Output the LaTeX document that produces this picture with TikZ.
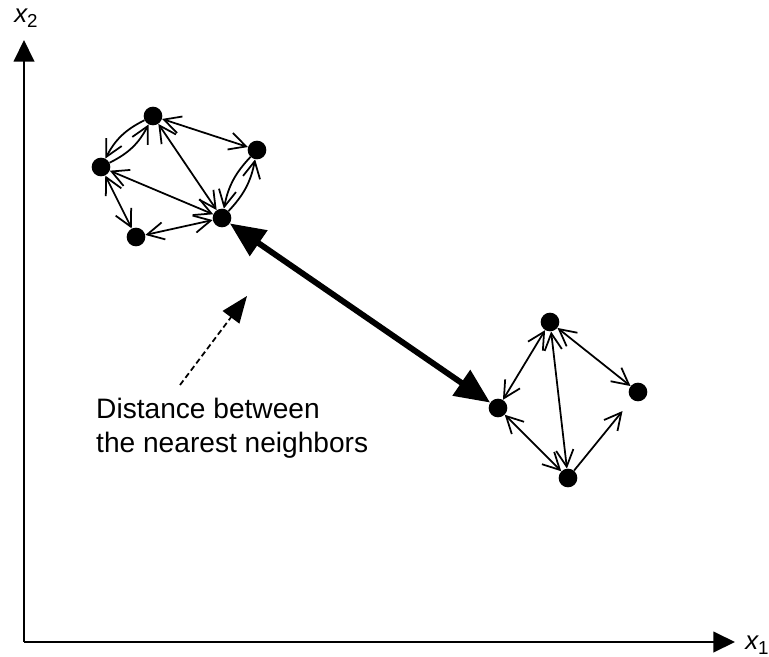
\documentclass[tikz,border=0pt]{standalone}
\usepackage{fontspec}
\setmainfont{Liberation Sans}
\usetikzlibrary{arrows.meta}

\tikzset{
  pnt/.style={circle, fill, inner sep=0pt, minimum size=0.56cm},
  nb/.style={line width=1.5pt},
  axis/.style={line width=1.6pt, -{Triangle[length=0.65cm,width=0.62cm]}},
  axlabel/.style={font=\fontsize{22}{24}\selectfont, inner sep=0pt},
}
\newcommand{\axsub}[1]{\raisebox{-0.4ex}{\upshape\fontsize{16}{16}\selectfont #1}}

\begin{document}
\begin{tikzpicture}[x=0.03cm, y=-0.03cm, >={Straight Barb[length=0.5cm,width=0.52cm]}]
        \useasboundingbox (0,0) rectangle (769,657);

        % 1. Axes x_1 and x_2
        \coordinate (o) at (24,642);
        \coordinate (xtip) at (735,642);
        \coordinate (ytip) at (24,40);
        \draw[axis] (o) -- (xtip);
        \draw[axis] (o) -- (ytip);
        \node (x1) [axlabel] at (757,645) {\itshape x\axsub{1}};
        \node (x2) [axlabel] at (26,18) {\itshape x\axsub{2}};

        % 2. Upper left cluster
        \node (a1) at (153,116) [pnt] {};
        \node (a2) at (101,167) [pnt] {};
        \node (a3) at (257,150) [pnt] {};
        \node (a4) at (222,218) [pnt] {};
        \node (a5) at (136,237) [pnt] {};
        \draw[nb,->] (a1) to[bend right=18] (a2);
        \draw[nb,->] (a2) to[bend right=18] (a1);
        \draw[nb,->] (a3) to[bend right=16] (a4);
        \draw[nb,->] (a4) to[bend right=16] (a3);
        \draw[nb,<->] (a1) -- (a3);
        \draw[nb,<->] (a1) -- (a4);
        \draw[nb,<->] (a2) -- (a4);
        \draw[nb,<->] (a2) -- (a5);
        \draw[nb,<->] (a5) -- (a4);

        % 3. Lower right cluster
        \node (b1) at (550,322) [pnt] {};
        \node (b2) at (498,408) [pnt] {};
        \node (b3) at (638,392) [pnt] {};
        \node (b4) at (568,478) [pnt] {};
        \draw[nb,<->] (b1) -- (b2);
        \draw[nb,<->] (b1) -- (b3);
        \draw[nb,<->] (b1) -- (b4);
        \draw[nb,<->] (b2) -- (b4);
        \draw[nb,->,shorten >=0.45cm] (b4) -- (b3);

        % 4. Nearest neighbour distance
        \draw[line width=5pt, {Triangle[length=1.05cm,width=0.9cm]}-{Triangle[length=1.05cm,width=0.9cm]}] (a4) -- (b2);

        % 5. Note with dashed pointer
        \node (note) [anchor=north west, align=left, inner sep=0pt, font=\fontsize{24}{28.5}\selectfont] at (96,398)
            {Distance between\\the nearest neighbors};
        \coordinate (tail) at (180,385);
        \coordinate (tip) at (247,296);
        \draw[line width=1.5pt, dash pattern=on 0.17cm off 0.1cm, -{Triangle[length=0.8cm,width=0.62cm]}] (tail) -- (tip);

    \end{tikzpicture}
\end{document}
